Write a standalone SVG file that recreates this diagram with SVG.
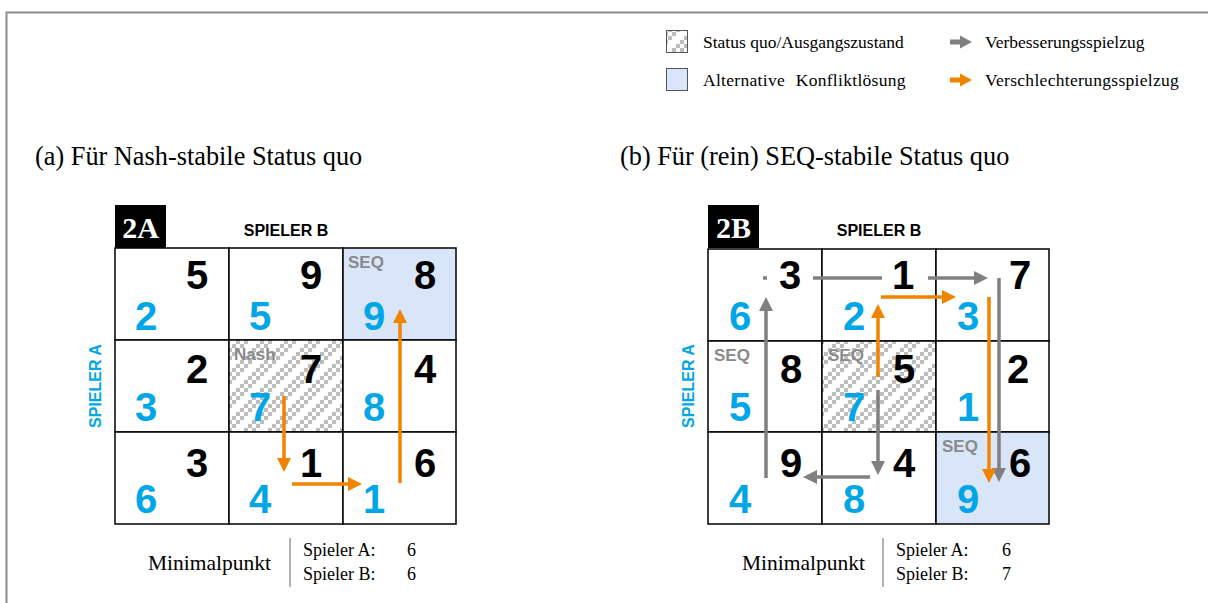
<svg xmlns="http://www.w3.org/2000/svg" width="1208" height="603" viewBox="0 0 1208 603">
  <style>
    .serif { font-family: "Liberation Serif", "Times New Roman", serif; fill: #000; }
    .title { font-size: 26.3px; }
    .leg { font-size: 17.5px; }
    .mini { font-size: 21.5px; }
    .pl { font-size: 18px; }
    .tag { font-family: "Liberation Serif", serif; font-weight: bold; font-size: 30px; fill: #fff; }
    .axis { font-family: "Liberation Sans", Arial, sans-serif; font-weight: bold; font-size: 16px; }
    .pb { fill: #000; text-anchor: middle; }
    .pa { fill: #00A6E8; text-anchor: middle; }
    .num { font-family: "Liberation Sans", Arial, sans-serif; font-weight: bold; font-size: 40px; }
    .lbl { font-family: "Liberation Sans", Arial, sans-serif; font-weight: bold; font-size: 17px; fill: #8A8A8A; }
    .cell { fill: #fff; stroke: #000; stroke-width: 1.5; }
    .alt { fill: #D9E6FA; }
    .sq { fill: url(#hatch); }
    .up { stroke: #808080; stroke-width: 3.5; fill: none; }
    .down { stroke: #F08300; stroke-width: 3.5; fill: none; }
    .div { stroke: #999; stroke-width: 1.5; }
  </style>
  <defs>
    <!-- diagonal checker bands for the status-quo cell -->
    <pattern id="hatch" patternUnits="userSpaceOnUse" width="24" height="24">
      <rect width="24" height="24" fill="#fff"/>
      <g fill="#BDBDBD">
        <rect x="0" y="0" width="4" height="4"/>
        <rect x="4" y="20" width="4" height="4"/>
        <rect x="8" y="16" width="4" height="4"/>
        <rect x="12" y="12" width="4" height="4"/>
        <rect x="16" y="8" width="4" height="4"/>
        <rect x="20" y="4" width="4" height="4"/>
        <rect x="0" y="8" width="4" height="4"/>
        <rect x="4" y="4" width="4" height="4"/>
        <rect x="8" y="0" width="4" height="4"/>
        <rect x="12" y="20" width="4" height="4"/>
        <rect x="16" y="16" width="4" height="4"/>
        <rect x="20" y="12" width="4" height="4"/>
      </g>
    </pattern>
    <marker id="hg" markerUnits="userSpaceOnUse" markerWidth="14" markerHeight="14" viewBox="0 0 14 14" refX="1" refY="7" orient="auto">
      <path d="M0,0 L14,7 L0,14 z" fill="#808080"/>
    </marker>
    <marker id="ho" markerUnits="userSpaceOnUse" markerWidth="14" markerHeight="14" viewBox="0 0 14 14" refX="1" refY="7" orient="auto">
      <path d="M0,0 L14,7 L0,14 z" fill="#F08300"/>
    </marker>
  </defs>

  <rect width="1208" height="603" fill="#fff"/>
  <!-- outer frame, open to the right and bottom -->
  <rect x="6.5" y="12.5" width="1220" height="620" fill="none" stroke="#8C8C8C" stroke-width="2"/>

  <!-- legend -->
  <g id="legend">
    <rect x="666.5" y="30.5" width="21" height="22" fill="url(#hatch)" stroke="#555" stroke-width="1"/>
    <text class="serif leg" x="703" y="48">Status quo/Ausgangszustand</text>
    <rect x="666.5" y="68.5" width="21" height="22" fill="#D9E6FA" stroke="#555" stroke-width="1"/>
    <text class="serif leg" x="703" y="86" word-spacing="6" letter-spacing="0.3">Alternative Konfliktlösung</text>
    <line x1="950" y1="42" x2="961" y2="42" stroke="#808080" stroke-width="5"/>
    <path d="M960,35.5 L972,42 L960,48.5 z" fill="#808080"/>
    <text class="serif leg" x="985" y="48">Verbesserungsspielzug</text>
    <line x1="950" y1="80" x2="961" y2="80" stroke="#F08300" stroke-width="5"/>
    <path d="M960,73.5 L972,80 L960,86.5 z" fill="#F08300"/>
    <text class="serif leg" x="985" y="86" letter-spacing="0.3">Verschlechterungsspielzug</text>
  </g>

  <!-- panel titles -->
  <text class="serif title" x="35" y="165">(a) Für Nash-stabile Status quo</text>
  <text class="serif title" x="620" y="165">(b) Für (rein) SEQ-stabile Status quo</text>

  <!-- ===== Matrix 2A ===== -->
  <g id="matrix-2A">
    <g id="tag-2A">
      <rect x="115" y="205" width="51" height="43" fill="#000"/>
      <text class="tag" x="140.5" y="238" text-anchor="middle">2A</text>
    </g>
    <text class="axis" x="286" y="236" text-anchor="middle" fill="#000">SPIELER B</text>
    <text class="axis" x="101" y="386" text-anchor="middle" fill="#00A6E8" transform="rotate(-90 101 386)">SPIELER A</text>

    <g id="A-r1c1"><rect class="cell" x="115" y="248" width="114" height="92"/>
      <text class="num pb" x="197" y="289">5</text><text class="num pa" x="146" y="330">2</text></g>
    <g id="A-r1c2"><rect class="cell" x="229" y="248" width="114" height="92"/>
      <text class="num pb" x="311" y="289">9</text><text class="num pa" x="260" y="330">5</text></g>
    <g id="A-r1c3"><rect class="cell alt" x="343" y="248" width="113" height="92"/>
      <text class="lbl" x="348" y="268">SEQ</text>
      <text class="num pb" x="425" y="289">8</text><text class="num pa" x="374" y="330">9</text></g>

    <g id="A-r2c1"><rect class="cell" x="115" y="340" width="114" height="92"/>
      <text class="num pb" x="197" y="383">2</text><text class="num pa" x="146" y="421">3</text></g>
    <g id="A-r2c2"><rect class="cell sq" x="229" y="340" width="114" height="92"/>
      <text class="lbl" x="234" y="360">Nash</text>
      <text class="num pb" x="311" y="383">7</text><text class="num pa" x="260" y="421">7</text></g>
    <g id="A-r2c3"><rect class="cell" x="343" y="340" width="113" height="92"/>
      <text class="num pb" x="425" y="383">4</text><text class="num pa" x="374" y="421">8</text></g>

    <g id="A-r3c1"><rect class="cell" x="115" y="432" width="114" height="92"/>
      <text class="num pb" x="197" y="477">3</text><text class="num pa" x="146" y="513">6</text></g>
    <g id="A-r3c2"><rect class="cell" x="229" y="432" width="114" height="92"/>
      <text class="num pb" x="311" y="477">1</text><text class="num pa" x="260" y="513">4</text></g>
    <g id="A-r3c3"><rect class="cell" x="343" y="432" width="113" height="92"/>
      <text class="num pb" x="425" y="477">6</text><text class="num pa" x="374" y="513">1</text></g>
  </g>

  <!-- ===== Matrix 2B ===== -->
  <g id="matrix-2B">
    <g id="tag-2B">
      <rect x="708" y="205" width="51" height="43" fill="#000"/>
      <text class="tag" x="733.5" y="238" text-anchor="middle">2B</text>
    </g>
    <text class="axis" x="879" y="236" text-anchor="middle" fill="#000">SPIELER B</text>
    <text class="axis" x="694" y="386" text-anchor="middle" fill="#00A6E8" transform="rotate(-90 694 386)">SPIELER A</text>

    <g id="B-r1c1"><rect class="cell" x="708" y="249" width="114" height="92"/>
      <text class="num pb" x="790" y="289">3</text><text class="num pa" x="740" y="330">6</text></g>
    <g id="B-r1c2"><rect class="cell" x="822" y="249" width="114" height="92"/>
      <text class="num pb" x="903" y="289">1</text><text class="num pa" x="854" y="330">2</text></g>
    <g id="B-r1c3"><rect class="cell" x="936" y="249" width="113" height="92"/>
      <text class="num pb" x="1020" y="289">7</text><text class="num pa" x="968" y="330">3</text></g>

    <g id="B-r2c1"><rect class="cell" x="708" y="341" width="114" height="91"/>
      <text class="lbl" x="714" y="361">SEQ</text>
      <text class="num pb" x="791" y="383">8</text><text class="num pa" x="740" y="421">5</text></g>
    <g id="B-r2c2"><rect class="cell sq" x="822" y="341" width="114" height="91"/>
      <text class="lbl" x="828" y="361">SEQ</text>
      <text class="num pb" x="904" y="383">5</text><text class="num pa" x="854" y="421">7</text></g>
    <g id="B-r2c3"><rect class="cell" x="936" y="341" width="113" height="91"/>
      <text class="num pb" x="1018" y="383">2</text><text class="num pa" x="968" y="421">1</text></g>

    <g id="B-r3c1"><rect class="cell" x="708" y="432" width="114" height="92"/>
      <text class="num pb" x="791" y="477">9</text><text class="num pa" x="740" y="513">4</text></g>
    <g id="B-r3c2"><rect class="cell" x="822" y="432" width="114" height="92"/>
      <text class="num pb" x="904" y="477">4</text><text class="num pa" x="854" y="513">8</text></g>
    <g id="B-r3c3"><rect class="cell alt" x="936" y="432" width="113" height="92"/>
      <text class="lbl" x="942" y="452">SEQ</text>
      <text class="num pb" x="1020" y="477">6</text><text class="num pa" x="968" y="513">9</text></g>
  </g>

  <!-- ===== moves ===== -->
  <g id="connectors">
    <!-- 2A: worsening moves -->
    <line class="down" x1="284" y1="396" x2="284" y2="459" marker-end="url(#ho)"/>
    <line class="down" x1="292" y1="484" x2="349" y2="484" marker-end="url(#ho)"/>
    <line class="down" x1="400" y1="483" x2="400" y2="322" marker-end="url(#ho)"/>

    <!-- 2B: improving moves -->
    <line class="up" x1="766" y1="478" x2="766" y2="310" marker-end="url(#hg)"/>
    <line class="up" x1="763" y1="278" x2="767" y2="278"/>
    <line class="up" x1="813" y1="278" x2="882" y2="278"/>
    <line class="up" x1="928" y1="278" x2="975" y2="278" marker-end="url(#hg)"/>
    <line class="up" x1="999" y1="278" x2="999" y2="469" marker-end="url(#hg)"/>
    <line class="up" x1="878" y1="390" x2="878" y2="462" marker-end="url(#hg)"/>
    <line class="up" x1="870" y1="477" x2="816" y2="477" marker-end="url(#hg)"/>

    <!-- 2B: worsening moves -->
    <line class="down" x1="878" y1="377" x2="878" y2="317" marker-end="url(#ho)"/>
    <line class="down" x1="881" y1="297" x2="943" y2="297" marker-end="url(#ho)"/>
    <line class="down" x1="989" y1="297" x2="989" y2="470" marker-end="url(#ho)"/>
  </g>

  <!-- minimal points -->
  <g id="min-A">
    <text class="serif mini" x="148" y="570">Minimalpunkt</text>
    <line class="div" x1="290" y1="538" x2="290" y2="587"/>
    <text class="serif pl" x="303" y="556">Spieler A:</text>
    <text class="serif pl" x="407" y="556">6</text>
    <text class="serif pl" x="303" y="580">Spieler B:</text>
    <text class="serif pl" x="407" y="580">6</text>
  </g>
  <g id="min-B">
    <text class="serif mini" x="742" y="570">Minimalpunkt</text>
    <line class="div" x1="883" y1="538" x2="883" y2="587"/>
    <text class="serif pl" x="896" y="556">Spieler A:</text>
    <text class="serif pl" x="1002" y="556">6</text>
    <text class="serif pl" x="896" y="580">Spieler B:</text>
    <text class="serif pl" x="1002" y="580">7</text>
  </g>
</svg>
